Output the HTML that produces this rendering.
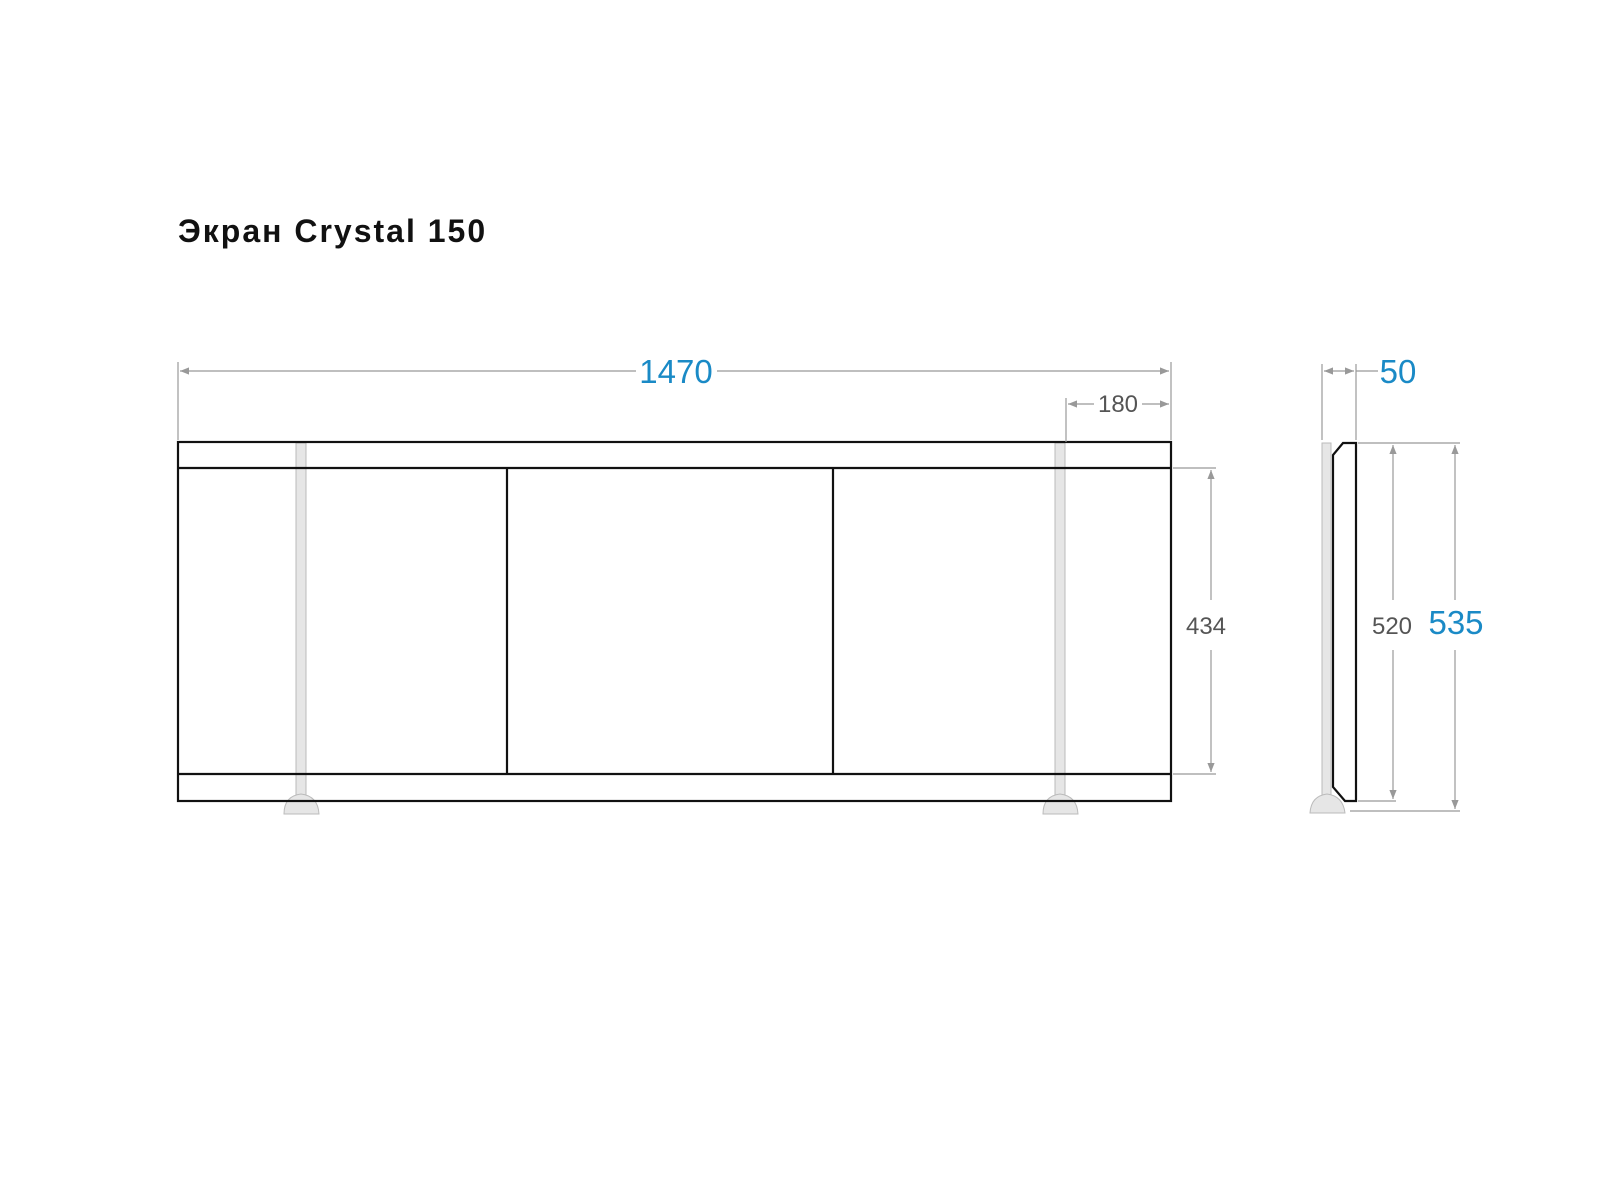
<!DOCTYPE html>
<html><head><meta charset="utf-8"><style>
body{margin:0;background:#fff;}
svg{display:block}
</style></head><body>
<svg width="1600" height="1200" viewBox="0 0 1600 1200" xmlns="http://www.w3.org/2000/svg">
<defs>
<marker id="a" viewBox="0 0 10 10" refX="10" refY="5" markerWidth="16" markerHeight="9" orient="auto-start-reverse" markerUnits="userSpaceOnUse"><path d="M0,1 L10,5 L0,9 z" fill="#999"/></marker>
</defs>
<rect width="1600" height="1200" fill="#fff"/>
<text x="178" y="242" font-family="Liberation Sans, DejaVu Sans, sans-serif" font-weight="bold" font-size="32" letter-spacing="2" fill="#111">Экран Crystal 150</text>

<g stroke="#bbb" stroke-width="1" fill="#e6e6e6">
<rect x="296" y="443" width="10" height="352"/>
<rect x="1055" y="443" width="10" height="352"/>
<path d="M284,814 Q284,796 301,794 Q318,796 319,814 z"/>
<path d="M1043,814 Q1043,796 1060,794 Q1077,796 1078,814 z"/>
</g>
<g stroke="#111" stroke-width="2.2" fill="none">
<rect x="178" y="442" width="993" height="359"/>
<line x1="178" y1="468" x2="1171" y2="468"/>
<line x1="178" y1="774" x2="1171" y2="774"/>
<line x1="507" y1="468" x2="507" y2="774"/>
<line x1="833" y1="468" x2="833" y2="774"/>
</g>

<g stroke="#999" stroke-width="1.2" fill="none">
<line x1="178" y1="362" x2="178" y2="440"/>
<line x1="1171" y1="362" x2="1171" y2="440"/>
<line x1="180" y1="371" x2="636" y2="371" marker-start="url(#a)"/>
<line x1="717" y1="371" x2="1169" y2="371" marker-end="url(#a)"/>
<line x1="1066" y1="398" x2="1066" y2="442"/>
<line x1="1068" y1="404" x2="1094" y2="404" marker-start="url(#a)"/>
<line x1="1142" y1="404" x2="1169" y2="404" marker-end="url(#a)"/>
<line x1="1173" y1="468" x2="1216" y2="468"/>
<line x1="1173" y1="774" x2="1216" y2="774"/>
<line x1="1211" y1="470" x2="1211" y2="600" marker-start="url(#a)"/>
<line x1="1211" y1="650" x2="1211" y2="772" marker-end="url(#a)"/>
</g>
<g font-family="Liberation Sans, sans-serif">
<text x="676" y="383" font-size="33" fill="#1a8ac6" text-anchor="middle">1470</text>
<text x="1118" y="412" font-size="24" fill="#555" text-anchor="middle">180</text>
<text x="1206" y="634" font-size="24" fill="#555" text-anchor="middle">434</text>
<text x="1398" y="383" font-size="33" fill="#1a8ac6" text-anchor="middle">50</text>
<text x="1392" y="634" font-size="24" fill="#555" text-anchor="middle">520</text>
<text x="1456" y="634" font-size="33" fill="#1a8ac6" text-anchor="middle">535</text>
</g>

<g stroke="#bbb" stroke-width="1" fill="#e6e6e6">
<rect x="1322" y="443" width="9" height="352"/>
<path d="M1310,813 Q1311,796 1327,794 Q1343,796 1345,813 z"/>
</g>
<path d="M1343,443 L1356,443 L1356,801 L1345,801 L1333,787 L1333,455 z" stroke="#111" stroke-width="2.2" fill="none"/>
<g stroke="#999" stroke-width="1.2" fill="none">
<line x1="1322" y1="364" x2="1322" y2="440"/>
<line x1="1356" y1="364" x2="1356" y2="440"/>
<line x1="1324" y1="371" x2="1354" y2="371" marker-start="url(#a)" marker-end="url(#a)"/>
<line x1="1356" y1="371" x2="1378" y2="371"/>
<line x1="1358" y1="443" x2="1460" y2="443"/>
<line x1="1358" y1="801" x2="1396" y2="801"/>
<line x1="1350" y1="811" x2="1460" y2="811"/>
<line x1="1393" y1="445" x2="1393" y2="600" marker-start="url(#a)"/>
<line x1="1393" y1="650" x2="1393" y2="799" marker-end="url(#a)"/>
<line x1="1455" y1="445" x2="1455" y2="600" marker-start="url(#a)"/>
<line x1="1455" y1="650" x2="1455" y2="809" marker-end="url(#a)"/>
</g>
</svg>
</body></html>
